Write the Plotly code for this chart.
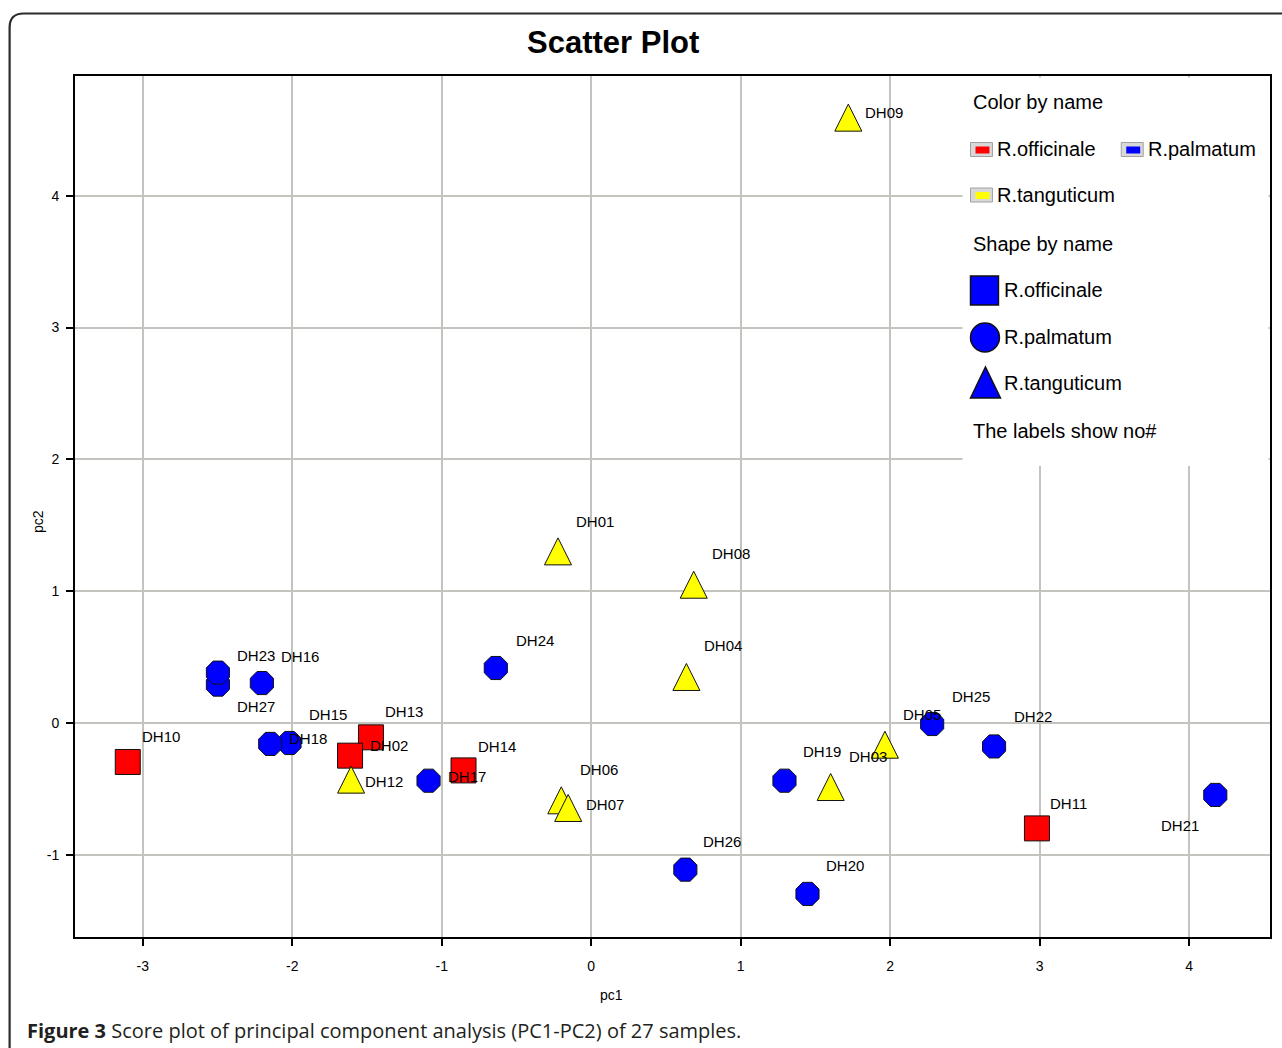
import plotly.graph_objects as go

# ---------------- data ----------------
sample_ids = ["DH01", "DH03", "DH04", "DH05", "DH06", "DH07", "DH08", "DH09",
              "DH10", "DH11", "DH12", "DH13", "DH02", "DH14", "DH15", "DH16",
              "DH17", "DH18", "DH19", "DH20", "DH21", "DH22", "DH24", "DH25",
              "DH26", "DH27", "DH23"]
pc1 = [-0.222, 1.602, 0.637, 1.965, -0.200, -0.154, 0.686, 1.720,
       -3.100, 2.982, -1.606, -1.473, -1.613, -0.854, -2.018, -2.203,
       -1.088, -2.147, 1.293, 1.447, 4.175, 2.695, -0.638, 2.281,
       0.630, -2.497, -2.497]
pc2 = [1.302, -0.486, 0.349, -0.165, -0.587, -0.645, 1.049, 4.593,
       -0.296, -0.800, -0.430, -0.109, -0.248, -0.360, -0.152, 0.303,
       -0.438, -0.159, -0.438, -1.297, -0.546, -0.178, 0.417, -0.008,
       -1.113, 0.291, 0.382]
species = ["R.tanguticum", "R.tanguticum", "R.tanguticum", "R.tanguticum",
           "R.tanguticum", "R.tanguticum", "R.tanguticum", "R.tanguticum",
           "R.officinale", "R.officinale", "R.tanguticum", "R.officinale",
           "R.officinale", "R.officinale", "R.palmatum", "R.palmatum",
           "R.palmatum", "R.palmatum", "R.palmatum", "R.palmatum",
           "R.palmatum", "R.palmatum", "R.palmatum", "R.palmatum",
           "R.palmatum", "R.palmatum", "R.palmatum"]

species_names = ["R.officinale", "R.palmatum", "R.tanguticum"]
x_ticks = [-3, -2, -1, 0, 1, 2, 3, 4]
y_ticks = [-1, 0, 1, 2, 3, 4]
x_range = [-3.453, 4.541]
y_range = [-1.624, 4.909]

title_text = "Scatter Plot"
x_title = "pc1"
y_title = "pc2"
caption_bold = "Figure 3"
caption_rest = " Score plot of principal component analysis (PC1-PC2) of 27 samples."

# ---------------- styles / layout positions ----------------
colors = {"R.officinale": "#FF0000", "R.palmatum": "#0000FF", "R.tanguticum": "#FFFF00"}
symbols = {"R.officinale": "square", "R.palmatum": "octagon", "R.tanguticum": "arrow-down"}
sizes = {"R.officinale": 25, "R.palmatum": 25, "R.tanguticum": 27}

# label offsets in pixels: (dx of label's left edge, dy of label's centre; +dy = down)
label_offsets = {
    "DH01": (16, -30), "DH02": (18, -10), "DH03": (16, -31), "DH04": (16, -31),
    "DH05": (16, -30), "DH06": (17, -31), "DH07": (16, -3), "DH08": (16, -31),
    "DH09": (15, -5), "DH10": (12, -25), "DH11": (11, -25), "DH12": (12, 2),
    "DH13": (12, -26), "DH14": (12, -24), "DH15": (17, -29), "DH16": (17, -27),
    "DH17": (17, -4), "DH18": (17, -5), "DH19": (17, -29), "DH20": (17, -28),
    "DH21": (-56, 31), "DH22": (18, -30), "DH23": (17, -17), "DH24": (18, -28),
    "DH25": (18, -28), "DH26": (16, -28), "DH27": (17, 22),
}

W, H = 1282, 1048
L, R, T, B = 75, 10, 76, 111
PW, PH = W - L - R, H - T - B


def pxx(x):
    return (x - L) / PW


def pxy(y):
    return (H - B - y) / PH


ARIAL = "Liberation Sans, Arial, Helvetica, sans-serif"

fig = go.Figure()

for sp in species_names:
    idx = [i for i, s in enumerate(species) if s == sp]
    marker = dict(
        symbol=symbols[sp],
        size=sizes[sp],
        color=colors[sp],
        line=dict(color="#111111", width=1),
    )
    if sp == "R.tanguticum":
        marker["angle"] = 180
        marker["standoff"] = sizes[sp] / 2
    fig.add_trace(go.Scatter(
        x=[pc1[i] for i in idx],
        y=[pc2[i] for i in idx],
        mode="markers",
        marker=marker,
        name=sp,
        hovertext=[sample_ids[i] for i in idx],
        showlegend=False,
    ))

annotations = []
for sid, xv, yv in zip(sample_ids, pc1, pc2):
    dx, dy = label_offsets[sid]
    annotations.append(dict(
        x=xv, y=yv, xref="x", yref="y", text=sid, showarrow=False,
        xanchor="left", yanchor="middle", xshift=dx, yshift=-dy,
        font=dict(family=ARIAL, size=15, color="#000000"),
    ))

# title, axis titles, caption
annotations.append(dict(x=pxx(614), y=pxy(42), xref="paper", yref="paper",
                        text="<b>" + title_text + "</b>", showarrow=False,
                        xanchor="center", yanchor="middle",
                        font=dict(family=ARIAL, size=31, color="#000000")))
annotations.append(dict(x=pxx(612), y=pxy(995), xref="paper", yref="paper",
                        text=x_title, showarrow=False, xanchor="center", yanchor="middle",
                        font=dict(family=ARIAL, size=14, color="#000000")))
annotations.append(dict(x=pxx(38), y=pxy(522), xref="paper", yref="paper",
                        text=y_title, showarrow=False, xanchor="center", yanchor="middle",
                        textangle=-90,
                        font=dict(family=ARIAL, size=14, color="#000000")))
annotations.append(dict(x=pxx(25), y=pxy(1030), xref="paper", yref="paper",
                        text="<b>" + caption_bold + "</b>" + caption_rest, showarrow=False,
                        xanchor="left", yanchor="middle",
                        font=dict(family="Open Sans, Noto Sans, sans-serif", size=20,
                                  color="#231f20")))

# custom legend texts
legend_texts = [
    ("Color by name", 972, 102),
    (species_names[0], 997, 149),
    (species_names[1], 1148, 149),
    (species_names[2], 997, 195),
    ("Shape by name", 972, 244),
    (species_names[0], 1004, 290),
    (species_names[1], 1004, 337),
    (species_names[2], 1004, 383),
    ("The labels show no#", 972, 431),
]
for txt, lx, ly in legend_texts:
    annotations.append(dict(x=pxx(lx), y=pxy(ly), xref="paper", yref="paper",
                            text=txt, showarrow=False, xanchor="left", yanchor="middle",
                            font=dict(family=ARIAL, size=20, color="#000000")))

shapes = []
# white legend background covering the grid (inset so the axis frame stays visible)
shapes.append(dict(type="rect", xref="paper", yref="paper", layer="above",
                   x0=pxx(964), x1=pxx(1270.5), y0=pxy(466), y1=pxy(77.5),
                   fillcolor="#FFFFFF", line=dict(width=0)))
# colour swatches
for sp, sx, sy in [(species_names[0], 972, 149.5), (species_names[1], 1123, 149.5),
                   (species_names[2], 972, 195)]:
    shapes.append(dict(type="rect", xref="paper", yref="paper", layer="above",
                       x0=pxx(sx), x1=pxx(sx + 22), y0=pxy(sy + 7), y1=pxy(sy - 7),
                       fillcolor="#d8d8d8", line=dict(color="#a0a0a0", width=1)))
    shapes.append(dict(type="rect", xref="paper", yref="paper", layer="above",
                       x0=pxx(sx + 5), x1=pxx(sx + 19), y0=pxy(sy + 4), y1=pxy(sy - 3),
                       fillcolor=colors[sp], line=dict(width=0)))
# shape legend markers
shp_col = colors["R.palmatum"]
shapes.append(dict(type="rect", xref="paper", yref="paper", layer="above",
                   x0=pxx(972), x1=pxx(1000), y0=pxy(305), y1=pxy(276),
                   fillcolor=shp_col, line=dict(color="#111111", width=1.5)))
shapes.append(dict(type="circle", xref="paper", yref="paper", layer="above",
                   x0=pxx(972), x1=pxx(1001), y0=pxy(352), y1=pxy(323),
                   fillcolor=shp_col, line=dict(color="#111111", width=1.5)))
shapes.append(dict(type="path", xref="paper", yref="paper", layer="above",
                   path="M {:.5f},{:.5f} L {:.5f},{:.5f} L {:.5f},{:.5f} Z".format(
                       pxx(972), pxy(398), pxx(987), pxy(367), pxx(1002), pxy(398)),
                   fillcolor=shp_col, line=dict(color="#111111", width=1.5)))
# rounded outer frame
fx0, fy0, rr = 9.5, 13.5, 14
frame_path = "M {:.5f},{:.5f} L {:.5f},{:.5f} Q {:.5f},{:.5f} {:.5f},{:.5f} L {:.5f},{:.5f}".format(
    pxx(fx0), pxy(1070), pxx(fx0), pxy(fy0 + rr), pxx(fx0), pxy(fy0),
    pxx(fx0 + rr), pxy(fy0), pxx(1300), pxy(fy0))
shapes.append(dict(type="path", xref="paper", yref="paper", path=frame_path,
                   line=dict(color="#2b2b2b", width=2.2)))

axis_common = dict(
    showline=True, linecolor="#000000", linewidth=2, mirror=True,
    showgrid=True, gridcolor="#c4c4be", gridwidth=1.5,
    zeroline=False, ticks="outside", ticklen=7, tickwidth=1.5, tickcolor="#000000",
    tickfont=dict(family=ARIAL, size=14, color="#000000"),
)

fig.update_layout(
    width=W, height=H,
    margin=dict(l=L, r=R, t=T, b=B, pad=0),
    paper_bgcolor="#FFFFFF", plot_bgcolor="#FFFFFF",
    xaxis=dict(range=x_range, tickvals=x_ticks,
               ticktext=[str(v) for v in x_ticks], ticklabelstandoff=8, **axis_common),
    yaxis=dict(range=y_range, tickvals=y_ticks,
               ticktext=[str(v) for v in y_ticks], ticklabelstandoff=4, **axis_common),
    annotations=annotations,
    shapes=shapes,
    showlegend=False,
)

fig.write_html("out.html", config={"displayModeBar": False},
               post_script="document.body.style.margin='0';document.body.style.overflow='hidden';")
